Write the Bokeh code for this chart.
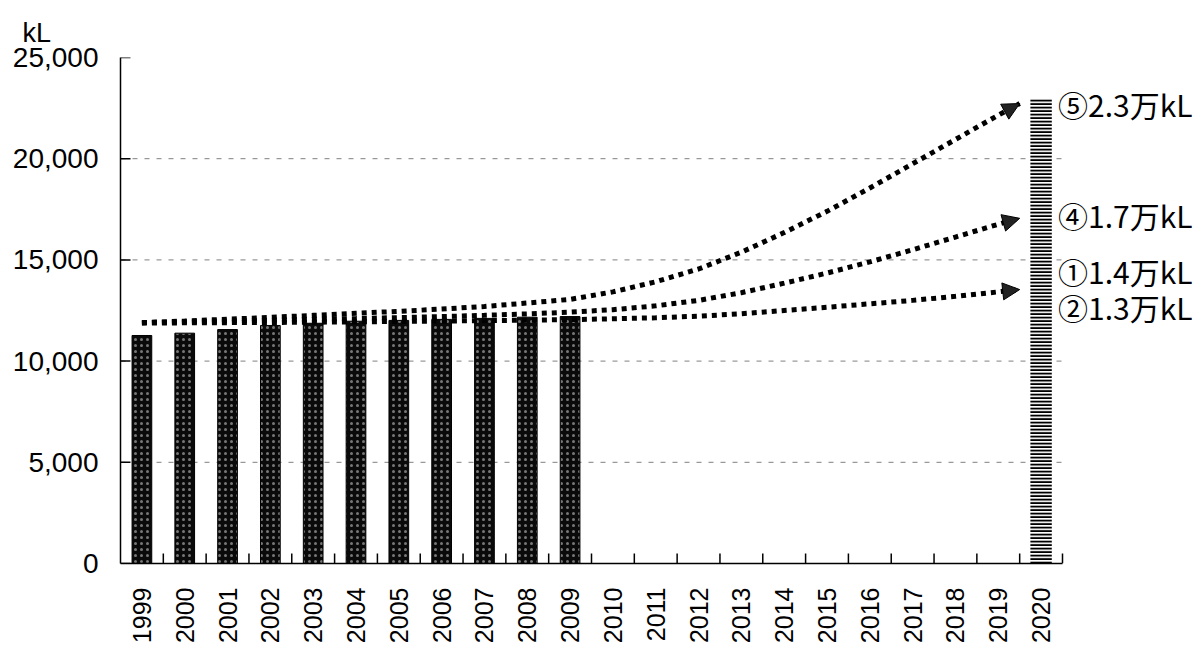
from bokeh.plotting import figure
from bokeh.models import FixedTicker, Range1d, NumeralTickFormatter, Arrow, NormalHead, Label, Title
from bokeh.embed import file_html
from bokeh.resources import INLINE

# ---- data ----
years = list(range(1999, 2021))
actual_years = list(range(1999, 2010))
actual_kl = [11265, 11380, 11560, 11760, 11870, 11970, 12010, 12060, 12110, 12170, 12200]
target_year = [2020]
target_kl = [23000]

scenario_5 = [11900, 11980, 12070, 12160, 12260, 12360, 12460, 12570, 12700, 12870, 13050,
              13420, 13920, 14550, 15380, 16350, 17400, 18550, 19750, 20950, 22150, 23300]
scenario_4 = [11900, 11940, 11980, 12020, 12060, 12100, 12150, 12200, 12260, 12330, 12420,
              12540, 12730, 13000, 13380, 13850, 14350, 14900, 15500, 16130, 16760, 17350]
scenario_12 = [11880, 11890, 11900, 11910, 11920, 11940, 11960, 11980, 12000, 12020, 12050,
               12090, 12140, 12220, 12340, 12500, 12660, 12830, 13000, 13200, 13420, 13650]
scenario_labels = ["⑤2.3万kL", "④1.7万kL", "①1.4万kL", "②1.3万kL"]
y_ticks = [0, 5000, 10000, 15000, 20000, 25000]
unit_label = "kL"

# ---- layout constants (pixels) ----
frame_w, frame_h = 942, 506
border_l, border_t, border_b, border_r = 120, 57, 87, 137
px_per_year = frame_w / len(years)
units_per_px_y = (y_ticks[-1] - y_ticks[0]) / frame_h
tick_px = 10
x_lo = years[0] - 0.5
x_hi = years[-1] + 0.5
boundaries = [y + 0.5 for y in years]

p = figure(width=border_l + frame_w + border_r, height=border_t + frame_h + border_b,
           output_backend="svg", toolbar_location=None,
           x_range=Range1d(x_lo, x_hi + border_r / px_per_year), y_range=Range1d(y_ticks[0], y_ticks[-1]),
           min_border_left=border_l, min_border_right=0, min_border_top=border_t,
           min_border_bottom=border_b)
p.outline_line_color = None
p.xgrid.visible = False
p.ygrid.visible = False

# axes
p.xaxis.bounds = (x_lo, x_hi)
p.xaxis.ticker = FixedTicker(ticks=years)
p.xaxis.major_tick_in = 0
p.xaxis.major_tick_out = 0
p.xaxis.minor_tick_line_color = None
p.xaxis.major_label_orientation = 1.5707963
p.xaxis.major_label_text_font = "Liberation Sans"
p.xaxis.major_label_text_font_size = "25px"
p.xaxis.major_label_text_color = "black"
p.xaxis.major_label_standoff = 24
p.xaxis.axis_line_color = "black"
p.xaxis.axis_line_width = 1.5

p.yaxis.ticker = FixedTicker(ticks=y_ticks)
p.yaxis.formatter = NumeralTickFormatter(format="0,0")
p.yaxis.major_tick_in = 0
p.yaxis.major_tick_out = 0
p.yaxis.minor_tick_line_color = None
p.yaxis.major_label_text_font = "Liberation Sans"
p.yaxis.major_label_text_font_size = "28px"
p.yaxis.major_label_text_color = "black"
p.yaxis.major_label_standoff = 22
p.yaxis.axis_line_color = "black"
p.yaxis.axis_line_width = 1.5

# dashed horizontal gridlines limited to the category span
grid_vals = y_ticks[1:-1]
p.segment(x0=[x_lo] * len(grid_vals), x1=[x_hi] * len(grid_vals), y0=grid_vals, y1=grid_vals,
          line_color="#808080", line_width=1, line_dash="5 7")

# inward tick marks
p.segment(x0=boundaries, x1=boundaries, y0=[y_ticks[0]] * len(boundaries),
          y1=[y_ticks[0] + tick_px * units_per_px_y] * len(boundaries),
          line_color="black", line_width=1.5)
p.segment(x0=[x_lo] * len(y_ticks), x1=[x_lo + tick_px / px_per_year] * len(y_ticks),
          y0=y_ticks, y1=y_ticks, line_color="black", line_width=1.5)

# bars
p.vbar(x=actual_years, top=actual_kl, width=0.46, fill_color="#0a0a0a", line_color="black",
       hatch_pattern="dot", hatch_color="#777777", hatch_scale=6, hatch_weight=1)
p.vbar(x=target_year, top=target_kl, width=0.5, fill_color="white", line_color=None,
       hatch_pattern="horizontal_line", hatch_color="black", hatch_scale=3.5, hatch_weight=2.2)

# scenario lines
for s in (scenario_5, scenario_4, scenario_12):
    tip_x = (years[-2] + years[-1]) / 2
    tip_y = (s[-2] + s[-1]) / 2
    xs = years[:-1] + [tip_x]
    ys = s[:-1] + [tip_y]
    p.line(xs, ys, line_color="black", line_width=5, line_dash="5 5")
    p.add_layout(Arrow(end=NormalHead(size=17, fill_color="#222222", line_color="black", line_width=1),
                       x_start=years[-2], y_start=s[-2], x_end=tip_x, y_end=tip_y, line_alpha=0))

# scenario labels
label_src = [(scenario_5, 0), (scenario_4, 3), (scenario_12, 19), (scenario_12, -17)]
for text, (s, dy) in zip(scenario_labels, label_src):
    tip_y = (s[-2] + s[-1]) / 2
    p.add_layout(Label(x=years[-1], y=tip_y, x_offset=17, y_offset=dy, text=text,
                       text_font="Noto Sans CJK JP", text_font_size="30px",
                       text_align="left", text_baseline="middle", text_color="black"))

# unit label above the value axis
p.add_layout(Title(text=unit_label, align="left", offset=-98, standoff=20,
                   text_font="Liberation Sans", text_font_size="27px", text_font_style="normal",
                   text_color="black"), "above")

open("out.html", "w").write(file_html(p, INLINE))
